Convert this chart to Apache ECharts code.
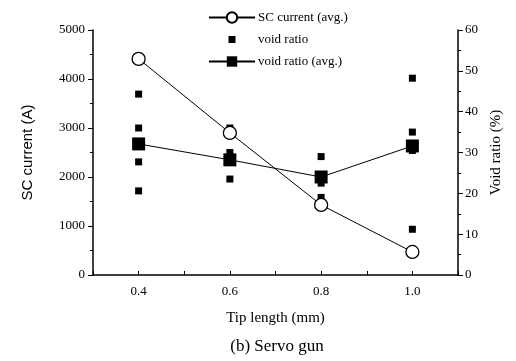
<!DOCTYPE html>
<html>
<head>
<meta charset="utf-8">
<script src="https://cdn.jsdelivr.net/npm/echarts@6/dist/echarts.min.js"></script>
<style>
  html, body { margin: 0; padding: 0; background: #fff; }
  #chart { width: 516px; height: 361px; }
</style>
</head>
<body>
<div id="chart"></div>
<script>
// tip length (mm)
var tipLength = [0.4, 0.6, 0.8, 1.0];
// SC current average (A)
var scCurrentAvg = [4410, 2900, 1430, 470];
// void ratio average (%)
var voidRatioAvg = [32.1, 28.2, 24.0, 31.6];
// individual void ratio measurements (%) [tip length, value]
var voidRatioPoints = [
    [0.4, 44.3], [0.4, 36.0], [0.4, 27.7], [0.4, 20.6],
    [0.6, 36.0], [0.6, 30.0], [0.6, 23.5],
    [0.8, 29.0], [0.8, 22.5], [0.8, 19.0],
    [1.0, 48.2], [1.0, 35.0], [1.0, 30.5], [1.0, 11.2]
];
var xLabels = ['0.4', '0.6', '0.8', '1.0'];

var serif = '"Liberation Serif", "DejaVu Serif", serif';

var chart = echarts.init(document.getElementById('chart'));

function pairs(xs, ys) {
    return xs.map(function (x, i) { return [x, ys[i]]; });
}

var option = {
    animation: false,
    backgroundColor: '#fff',
    title: {
        text: '(b) Servo gun',
        left: 272,
        top: 333,
        textAlign: 'center',
        textStyle: { fontFamily: serif, fontSize: 17, fontWeight: 'normal', color: '#000' }
    },
    legend: {
        orient: 'vertical',
        left: 203,
        top: 6,
        itemWidth: 46,
        itemHeight: 13,
        itemGap: 9,
        selectedMode: false,
        textStyle: { fontFamily: serif, fontSize: 13, color: '#000', padding: [0, 0, 0, -2] },
        data: [
            { name: 'SC current (avg.)' },
            // small square centred in the wide legend slot
            { name: 'void ratio', icon: 'path://M0,0L0,0.01L0.01,0Z M46,13L46,12.99L45.99,13Z M19.5,3L26.5,3L26.5,10L19.5,10Z' },
            { name: 'void ratio (avg.)' }
        ]
    },
    grid: { left: 93, right: 58, top: 30, bottom: 86 },
    xAxis: {
        type: 'value',
        min: 0.3,
        max: 1.1,
        interval: 0.1,
        name: 'Tip length (mm)',
        nameLocation: 'middle',
        nameGap: 36,
        nameTextStyle: { fontFamily: serif, fontSize: 15, color: '#000' },
        axisLine: { lineStyle: { color: '#000', width: 1.5 } },
        axisTick: { inside: true, length: 4, lineStyle: { color: '#000' } },
        splitLine: { show: false },
        axisLabel: {
            fontFamily: serif, fontSize: 13, color: '#000', margin: 10,
            formatter: function (v) {
                var k = Math.round(v * 10);
                if (k % 2 === 0 && k >= 4 && k <= 10) return xLabels[(k - 4) / 2];
                return '';
            }
        }
    },
    yAxis: [
        {
            type: 'value',
            min: 0,
            max: 5000,
            interval: 1000,
            name: 'SC current (A)',
            nameLocation: 'middle',
            nameGap: 58,
            nameTextStyle: { fontFamily: '"Liberation Sans", Arial, sans-serif', fontSize: 15, color: '#000' },
            axisLine: { show: true, lineStyle: { color: '#000', width: 1.5 } },
            axisTick: { show: true, length: 5, lineStyle: { color: '#000' } },
            minorTick: { show: true, splitNumber: 2, length: 3, lineStyle: { color: '#000' } },
            splitLine: { show: false },
            axisLabel: {
                fontFamily: serif, fontSize: 13, color: '#000', margin: 8,
                formatter: function (v) { return String(v); }
            }
        },
        {
            type: 'value',
            min: 0,
            max: 60,
            interval: 10,
            position: 'right',
            name: 'Void ratio (%)',
            nameLocation: 'middle',
            nameGap: 30,
            nameRotate: 90,
            nameTextStyle: { fontFamily: serif, fontSize: 15, color: '#000' },
            axisLine: { show: true, lineStyle: { color: '#000', width: 1.5 } },
            axisTick: { show: true, length: 5, lineStyle: { color: '#000' } },
            minorTick: { show: true, splitNumber: 2, length: 3, lineStyle: { color: '#000' } },
            splitLine: { show: false },
            axisLabel: { fontFamily: serif, fontSize: 13, color: '#000', margin: 7 }
        }
    ],
    series: [
        {
            name: 'SC current (avg.)',
            type: 'line',
            yAxisIndex: 0,
            data: pairs(tipLength, scCurrentAvg),
            symbol: 'circle',
            symbolSize: 13,
            lineStyle: { color: '#000', width: 1 },
            itemStyle: { color: '#fff', borderColor: '#000', borderWidth: 1.3 },
            z: 4
        },
        {
            name: 'void ratio',
            type: 'scatter',
            yAxisIndex: 1,
            data: voidRatioPoints,
            symbol: 'rect',
            symbolSize: 7,
            itemStyle: { color: '#000', opacity: 1 },
            z: 3
        },
        {
            name: 'void ratio (avg.)',
            type: 'line',
            yAxisIndex: 1,
            data: pairs(tipLength, voidRatioAvg),
            symbol: 'rect',
            symbolSize: 13,
            lineStyle: { color: '#000', width: 1 },
            itemStyle: { color: '#000' },
            z: 5
        }
    ]
};

chart.setOption(option);
</script>
</body>
</html>
